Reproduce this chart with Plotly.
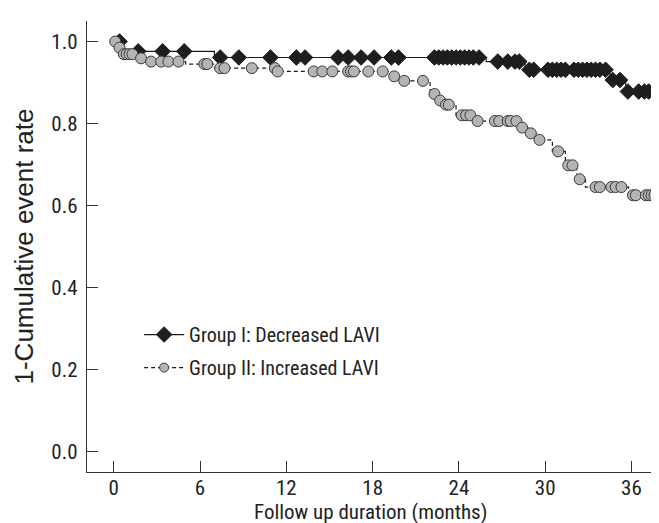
import numpy as np
import plotly.graph_objects as go

# ---------------- data ----------------
g1_event_times = [0, 0.6, 7.0, 25.9, 28.6, 34.5, 35.6]
g1_survival = [1.0, 0.976, 0.961, 0.951, 0.931, 0.906, 0.878]
g1_end = 38.0
g1_censor = [0.4, 1.7, 3.4, 4.9, 7.4, 8.7, 10.9, 12.7, 13.3, 15.6, 16.3, 17.2,
             18.1, 19.3, 19.8, 22.3, 22.6, 22.9, 23.2, 23.5, 23.8, 24.1, 24.4,
             24.7, 25.0, 25.4, 26.7, 27.4, 27.9, 28.2, 28.9, 29.2, 30.2, 30.5,
             30.8, 31.1, 31.4, 32.0, 32.3, 32.6, 32.9, 33.2, 33.5, 33.8, 34.2,
             34.7, 35.2, 35.75, 36.5, 36.9, 37.2, 38.0]

g2_event_times = [0, 0.3, 0.5, 1.6, 2.2, 5.0, 7.0, 11.3, 19.2, 19.9, 22.0, 22.5,
                  23.0, 23.8, 25.0, 28.2, 28.8, 29.4, 30.5, 31.4, 32.2, 32.8, 35.8]
g2_survival = [1.0, 0.985, 0.969, 0.959, 0.951, 0.945, 0.935, 0.927, 0.915, 0.904,
               0.872, 0.856, 0.846, 0.820, 0.806, 0.790, 0.776, 0.760, 0.732,
               0.698, 0.664, 0.645, 0.625]
g2_end = 37.6
g2_censor = [0.1, 0.4, 0.7, 0.9, 1.1, 1.3, 1.9, 2.6, 3.3, 3.8, 4.5, 6.3, 6.5,
             7.4, 7.7, 9.6, 11.2, 11.4, 13.9, 14.5, 15.2, 16.3, 16.5, 16.7, 17.7,
             18.7, 19.5, 20.2, 21.5, 22.3, 22.7, 23.1, 23.3, 24.2, 24.5, 24.8,
             25.3, 26.5, 26.8, 27.4, 27.6, 28.0, 28.4, 29.0, 29.6, 30.9, 31.6,
             31.9, 32.4, 33.5, 33.8, 34.6, 34.9, 35.3, 36.1, 36.3, 37.0, 37.2,
             37.4, 37.6]

group_names = ["Group I: Decreased LAVI", "Group II: Increased LAVI"]
x_ticks = [0, 6, 12, 18, 24, 30, 36]
y_ticks = [0.0, 0.2, 0.4, 0.6, 0.8, 1.0]
x_title = "Follow up duration (months)"
y_title = "1-Cumulative event rate"

FONT = "Roboto Condensed, Liberation Sans Narrow, Liberation Sans, sans-serif"
YFONT = "Liberation Sans, Arial, sans-serif"


def step_at(times, surv, t):
    idx = np.searchsorted(np.array(times), np.array(t), side="right") - 1
    return np.array(surv)[idx]


fig = go.Figure()

groups = [
    dict(times=g1_event_times, surv=g1_survival, end=g1_end, cens=g1_censor,
         dash="solid", symbol="diamond", msize=12, lsize=12, fill="#1e1e1e",
         edge="#1e1e1e", name=group_names[0]),
    dict(times=g2_event_times, surv=g2_survival, end=g2_end, cens=g2_censor,
         dash="4px,3px", symbol="circle", msize=11, lsize=9, fill="#b4b4b4",
         edge="#3a3a3a", name=group_names[1]),
]

for i, g in enumerate(groups):
    lx = list(g["times"]) + [g["end"]]
    ly = list(g["surv"]) + [g["surv"][-1]]
    fig.add_trace(go.Scatter(
        x=lx, y=ly, mode="lines", line=dict(color="#1a1a1a", width=1.2,
                                             dash=g["dash"], shape="hv"),
        showlegend=False, hoverinfo="skip"))
    cy = step_at(g["times"], g["surv"], g["cens"])
    fig.add_trace(go.Scatter(
        x=g["cens"], y=cy, mode="markers",
        marker=dict(symbol=g["symbol"], size=g["msize"], color=g["fill"],
                    line=dict(color=g["edge"], width=1)),
        showlegend=False))
    # legend entry
    fig.add_trace(go.Scatter(
        x=[None], y=[None], mode="lines+markers", name=g["name"],
        legendgroup=f"g{i}",
        line=dict(color="#1a1a1a", width=1.2, dash=g["dash"]),
        marker=dict(symbol=g["symbol"], size=g["lsize"], color=g["fill"],
                    line=dict(color=g["edge"], width=1))))

axis_common = dict(
    showline=True, linecolor="#333333", linewidth=1.3, mirror=False,
    showgrid=False, zeroline=False, ticks="inside", ticklen=11,
    tickwidth=1.2, tickcolor="#333333",
    tickfont=dict(family=FONT, size=21, color="#222222"),
)

fig.update_layout(
    width=659, height=523,
    margin=dict(l=79, r=1, t=13, b=59),
    paper_bgcolor="white", plot_bgcolor="white",
    font=dict(family=FONT, size=20, color="#222222"),
    xaxis=dict(range=[-1.86, 38.4], tickvals=x_ticks,
               ticktext=[str(v) for v in x_ticks],
               ticklabelstandoff=-3, automargin=False, **axis_common),
    yaxis=dict(range=[-0.05, 1.05], tickvals=y_ticks,
               ticktext=[f"{v:.1f}" for v in y_ticks],
               title=dict(text=y_title,
                          font=dict(family=YFONT, size=26), standoff=10),
               ticklabelstandoff=4, automargin=False, **axis_common),
    legend=dict(x=0.09, y=0.348, xanchor="left", yanchor="top",
                bgcolor="rgba(0,0,0,0)", traceorder="grouped",
                tracegroupgap=4, font=dict(family=FONT, size=20),
                itemwidth=40),
    showlegend=True,
    annotations=[dict(text=x_title, xref="paper", yref="paper",
                      x=0.489, y=-0.088, xanchor="center", yanchor="middle",
                      showarrow=False,
                      font=dict(family=FONT, size=21, color="#222222"))],
)

fig.write_html("out.html")
